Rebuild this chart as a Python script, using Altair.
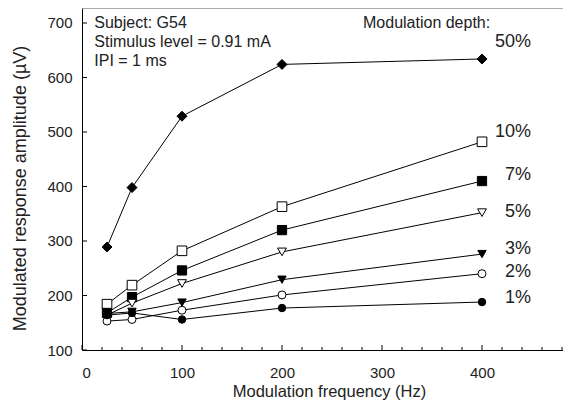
import altair as alt
import pandas as pd

FONT = "Liberation Sans"

freqs = [25, 50, 100, 200, 400]
depths = ["50%", "10%", "7%", "5%", "3%", "2%", "1%"]
amp_50 = [289, 398, 529, 624, 634]
amp_10 = [184, 219, 282, 363, 482]
amp_7 = [168, 197, 246, 320, 410]
amp_5 = [164, 186, 222, 280, 352]
amp_3 = [167, 170, 187, 229, 276]
amp_2 = [153, 156, 173, 201, 240]
amp_1 = [164, 168, 156, 177, 188]
series = [amp_50, amp_10, amp_7, amp_5, amp_3, amp_2, amp_1]

shapes = ["diamond", "square", "square", "triangle-down", "triangle-down", "circle", "circle"]
fills = ["black", "white", "black", "white", "black", "white", "black"]
sizes = [100, 56, 53, 50, 56, 59, 75]
label_dy = [-17, -10, -6, -1, -5, -2, -4]

x_major = [0, 100, 200, 300, 400]
x_minor = [20, 40, 60, 80, 120, 140, 160, 180, 220, 240, 260, 280,
           320, 340, 360, 380, 420, 440, 460, 480]
y_major = [100, 200, 300, 400, 500, 600, 700]

rows = []
for d, vals in zip(depths, series):
    for f, v in zip(freqs, vals):
        rows.append({"freq": f, "amp": v, "depth": d})
df = pd.DataFrame(rows)

W, H = 481, 342
xscale = alt.Scale(domain=[0, 481], nice=False, zero=False)
yscale = alt.Scale(domain=[100, 727.5], nice=False, zero=False)

xaxis = alt.Axis(values=x_major, ticks=False, grid=False, domainColor="black",
                 labelFontSize=15, labelPadding=15, labelColor="#222",
                 title="Modulation frequency (Hz)", titleFontSize=16.5,
                 titleFontWeight="normal", titleColor="#222",
                 titleX=247, titleY=41, titleBaseline="middle")
yaxis = alt.Axis(values=y_major, ticks=False, grid=False, domainColor="black",
                 labelFontSize=15, labelPadding=10, labelColor="#222",
                 title="Modulated response amplitude (µV)", titleFontSize=18,
                 titleFontWeight="normal", titleColor="#222",
                 titleX=-62, titleY=180, titleBaseline="middle")

X = alt.X("freq:Q", scale=xscale, axis=xaxis)
Y = alt.Y("amp:Q", scale=yscale, axis=yaxis)

lines = alt.Chart(df).mark_line(color="black", strokeWidth=1).encode(
    x=X, y=Y, detail="depth:N")

points = alt.Chart(df).mark_point(filled=True, stroke="black", strokeWidth=1, opacity=1).encode(
    x=X, y=Y,
    shape=alt.Shape("depth:N", scale=alt.Scale(domain=depths, range=shapes), legend=None),
    fill=alt.Fill("depth:N", scale=alt.Scale(domain=depths, range=fills), legend=None),
    size=alt.Size("depth:N", scale=alt.Scale(domain=depths, range=sizes), legend=None),
)

layers = [lines, points]

# inward ticks
layers.append(alt.Chart(pd.DataFrame({"freq": x_major})).mark_rule(color="black").encode(
    x=X, y=alt.value(H), y2=alt.value(H - 5)))
layers.append(alt.Chart(pd.DataFrame({"freq": x_minor})).mark_rule(color="black").encode(
    x=X, y=alt.value(H), y2=alt.value(H - 3)))
layers.append(alt.Chart(pd.DataFrame({"amp": y_major})).mark_rule(color="black").encode(
    y=Y, x=alt.value(0), x2=alt.value(5)))

# top frame line
layers.append(alt.Chart(pd.DataFrame({"a": [0]})).mark_rule(color="#777", strokeWidth=1.2).encode(
    x=alt.value(0), x2=alt.value(W), y=alt.value(0)))

# series labels
for d, dy in zip(depths, label_dy):
    sub = df[(df["depth"] == d) & (df["freq"] == freqs[-1])]
    layers.append(alt.Chart(sub).mark_text(align="right", baseline="middle", dx=49, dy=dy,
                                           fontSize=18, font=FONT, color="#222").encode(
        x=X, y=Y, text="depth:N"))

# annotations
one = pd.DataFrame({"a": [0]})
notes = [("Subject: G54", 15.3), ("Stimulus level = 0.91 mA", 33.7), ("IPI = 1 ms", 52.5)]
for txt, yy in notes:
    layers.append(alt.Chart(one).mark_text(align="left", baseline="middle", fontSize=16,
                                           font=FONT, color="#222").encode(
        x=alt.value(12.3), y=alt.value(yy), text=alt.value(txt)))
layers.append(alt.Chart(one).mark_text(align="left", baseline="middle", fontSize=16,
                                       font=FONT, color="#222").encode(
    x=alt.value(281), y=alt.value(15), text=alt.value("Modulation depth:")))

chart = alt.layer(*layers).properties(
    width=W, height=H,
    padding={"left": 74, "top": 0, "right": 0, "bottom": 52},
    autosize=alt.AutoSizeParams(type="none"),
).configure_view(stroke=None).configure(font=FONT).configure_axis(
    labelFont=FONT, titleFont=FONT)

chart.save("out.html", embed_options={"renderer": "svg", "actions": False})
